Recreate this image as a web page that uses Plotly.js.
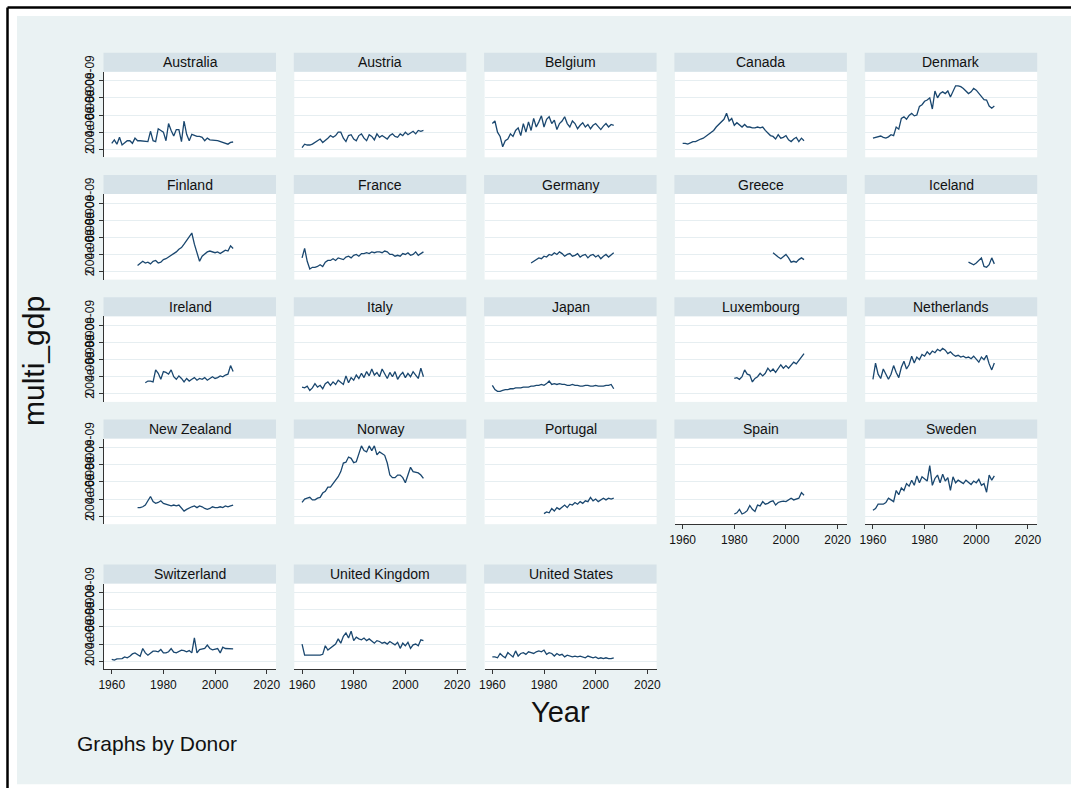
<!DOCTYPE html>
<html>
<head>
<meta charset="utf-8">
<script src="https://cdn.plot.ly/plotly-3.0.1.min.js"></script>
<style>
  html, body { margin: 0; padding: 0; background: #ffffff; }
  #chart { width: 1071px; height: 788px; }
</style>
</head>
<body>
<div id="chart"></div>
<script>
// Panel order (by Donor), first year of each series
const donors = ["Australia", "Austria", "Belgium", "Canada", "Denmark",
  "Finland", "France", "Germany", "Greece", "Iceland",
  "Ireland", "Italy", "Japan", "Luxembourg", "Netherlands",
  "New Zealand", "Norway", "Portugal", "Spain", "Sweden",
  "Switzerland", "United Kingdom", "United States"];
const startYears = [1960, 1960, 1960, 1960, 1960,
  1970, 1960, 1975, 1995, 1997,
  1973, 1960, 1960, 1980, 1960,
  1970, 1960, 1980, 1980, 1960,
  1960, 1960, 1960];

// multi_gdp, in units of 1e-09
const australia = [0.7, 1.1, 0.6, 1.4, 0.5, 0.7, 1.0, 1.0, 0.7, 1.3, 1.0, 1.0, 0.95, 0.95, 0.9, 2.1, 1.0, 0.9, 2.4, 2.2, 2.0, 1.0, 3.0, 2.2, 1.55, 2.3, 2.3, 0.9, 3.3, 1.75, 1.0, 1.75, 1.6, 1.5, 1.5, 1.4, 1.0, 1.3, 1.1, 1.1, 1.05, 1.0, 0.9, 0.8, 0.7, 0.6, 0.8, 0.85];
const austria = [0.2, 0.6, 0.5, 0.5, 0.6, 0.8, 1.0, 1.2, 0.8, 1.0, 1.3, 1.6, 1.4, 1.6, 2.0, 2.0, 1.3, 0.9, 1.6, 1.7, 1.2, 1.0, 1.6, 1.8, 1.3, 1.0, 1.7, 1.5, 1.1, 1.8, 1.4, 1.6, 1.4, 1.2, 1.6, 1.8, 1.5, 1.4, 1.8, 1.6, 2.0, 1.7, 1.9, 2.1, 1.8, 2.2, 2.1, 2.2];
const belgium = [3.0, 3.3, 2.0, 1.5, 0.3, 1.0, 1.2, 1.8, 1.5, 2.2, 2.5, 1.6, 3.0, 2.0, 3.2, 2.2, 3.6, 2.6, 3.2, 3.9, 2.6, 3.5, 3.8, 3.0, 3.4, 2.3, 3.0, 3.3, 3.8, 3.0, 2.6, 3.3, 3.0, 2.4, 2.8, 3.1, 2.6, 2.9, 2.4, 2.8, 3.0, 2.6, 2.3, 2.7, 3.0, 2.6, 2.9, 2.8];
const canada = [0.7, 0.7, 0.6, 0.8, 0.9, 0.9, 1.1, 1.2, 1.3, 1.5, 1.8, 2.0, 2.2, 2.6, 2.9, 3.1, 3.5, 4.2, 3.3, 3.6, 2.8, 3.1, 2.9, 2.6, 2.9, 2.6, 2.6, 2.5, 2.5, 2.6, 2.5, 2.6, 2.2, 1.9, 1.6, 1.5, 1.2, 1.7, 1.3, 1.4, 1.6, 1.1, 0.9, 1.2, 1.4, 0.9, 1.3, 1.0];
const denmark = [1.3, 1.4, 1.45, 1.55, 1.4, 1.3, 1.45, 1.7, 1.6, 2.6, 2.35, 3.6, 3.8, 3.5, 3.95, 4.2, 3.9, 4.0, 5.0, 5.2, 5.6, 5.75, 6.0, 4.7, 6.8, 6.0, 6.5, 6.7, 6.5, 6.8, 6.1, 6.7, 7.4, 7.4, 7.3, 7.1, 6.85, 6.5, 6.7, 7.1, 6.9, 6.5, 6.1, 5.8, 5.75, 5.05, 4.8, 5.05];
const finland = [0.7, 1.0, 1.2, 1.0, 1.1, 0.9, 1.2, 1.3, 1.0, 1.1, 1.4, 1.5, 1.7, 1.8, 2.0, 2.3, 2.6, 2.8, 3.2, 3.6, 4.0, 4.5, 3.2, 2.2, 1.2, 1.8, 2.1, 2.3, 2.4, 2.3, 2.2, 2.3, 2.1, 2.3, 2.5, 2.4, 3.0, 2.7];
const france = [1.6, 2.7, 1.2, 0.3, 0.5, 0.5, 0.6, 0.8, 0.6, 1.1, 1.3, 1.3, 1.5, 1.3, 1.6, 1.5, 1.4, 1.7, 1.8, 1.6, 1.9, 2.0, 1.8, 2.1, 2.1, 2.2, 2.1, 2.3, 2.2, 2.3, 2.3, 2.2, 2.4, 2.3, 2.0, 2.0, 1.8, 1.9, 1.8, 2.1, 2.0, 2.2, 1.9, 2.0, 2.3, 1.9, 2.1, 2.3];
const germany = [1.0, 1.2, 1.3, 1.6, 1.5, 1.8, 1.7, 2.0, 1.9, 2.2, 2.0, 2.3, 2.1, 1.8, 2.0, 2.1, 1.8, 1.9, 2.1, 1.7, 1.9, 2.0, 1.6, 1.9, 2.0, 1.7, 1.9, 1.5, 1.8, 2.0, 1.7, 2.0, 2.2];
const greece = [2.2, 1.9, 1.7, 1.5, 1.8, 2.0, 1.6, 1.1, 1.2, 1.1, 1.4, 1.6, 1.4];
const iceland = [1.1, 0.9, 0.8, 1.0, 1.3, 1.6, 0.6, 0.5, 0.8, 1.6, 0.9];
const ireland = [1.3, 1.5, 1.5, 1.4, 2.8, 2.4, 1.7, 2.6, 2.5, 2.3, 2.8, 2.0, 1.7, 2.1, 1.8, 1.4, 1.8, 1.5, 1.7, 1.9, 1.6, 1.8, 1.7, 1.9, 1.6, 1.8, 2.0, 1.8, 1.9, 2.1, 2.0, 2.2, 2.3, 3.3, 2.6];
const italy = [0.8, 0.7, 0.9, 0.4, 0.7, 1.2, 0.8, 1.0, 0.6, 1.2, 1.4, 1.0, 1.4, 1.1, 1.6, 1.3, 1.1, 2.1, 1.3, 1.9, 1.6, 2.2, 1.8, 2.4, 1.9, 2.6, 2.1, 2.9, 2.2, 2.5, 2.0, 2.9, 2.3, 1.8, 2.5, 2.0, 2.6, 1.7, 2.2, 2.5, 1.9, 2.4, 2.0, 2.6, 2.2, 1.8, 3.0, 2.0];
const japan = [1.0, 0.5, 0.3, 0.3, 0.4, 0.5, 0.5, 0.6, 0.6, 0.7, 0.7, 0.7, 0.8, 0.8, 0.8, 0.9, 0.9, 1.0, 1.0, 1.1, 1.0, 1.2, 1.5, 1.1, 1.2, 1.1, 1.2, 1.1, 1.1, 1.0, 1.0, 1.1, 1.0, 1.0, 0.9, 0.9, 1.0, 1.0, 0.9, 0.9, 1.0, 0.9, 0.9, 0.9, 1.0, 1.0, 1.1, 0.6];
const luxembourg = [1.8, 1.9, 1.7, 2.0, 2.8, 2.3, 2.2, 1.4, 1.8, 2.0, 2.4, 2.1, 2.4, 3.0, 2.6, 2.9, 2.5, 3.0, 3.4, 3.0, 3.3, 3.0, 3.3, 3.7, 3.5, 3.9, 4.3, 4.7];
const netherlands = [1.7, 3.6, 2.3, 1.8, 2.9, 2.2, 1.7, 2.3, 3.3, 2.5, 1.9, 3.1, 3.8, 2.9, 3.4, 4.4, 3.6, 4.3, 4.0, 4.6, 4.4, 4.9, 4.6, 5.0, 4.8, 5.2, 5.0, 5.3, 5.1, 4.7, 4.9, 4.6, 4.4, 4.5, 4.3, 4.4, 4.2, 4.3, 4.1, 4.4, 4.0, 3.7, 4.3, 4.0, 4.5, 3.5, 2.8, 3.6];
const newZealand = [1.0, 1.0, 1.1, 1.3, 1.8, 2.3, 1.7, 1.5, 1.6, 1.8, 1.5, 1.4, 1.3, 1.2, 1.3, 1.2, 1.3, 0.9, 0.6, 0.8, 1.0, 1.1, 1.2, 1.0, 1.2, 1.1, 0.9, 0.8, 0.9, 1.1, 1.0, 1.0, 1.1, 1.0, 1.2, 1.1, 1.2, 1.3];
const norway = [1.6, 2.0, 2.1, 2.2, 1.9, 1.9, 2.1, 2.2, 2.7, 2.9, 3.4, 3.4, 3.8, 4.2, 4.6, 5.2, 6.2, 6.3, 6.9, 6.75, 6.25, 6.35, 7.4, 8.2, 7.65, 7.5, 8.2, 7.65, 8.2, 7.15, 7.5, 7.3, 7.1, 6.2, 4.8, 4.5, 4.5, 4.8, 4.8, 4.5, 3.9, 4.8, 5.7, 5.2, 5.1, 5.05, 4.8, 4.4];
const portugal = [0.3, 0.5, 0.4, 0.9, 0.6, 1.0, 0.8, 1.1, 1.3, 1.0, 1.4, 1.3, 1.6, 1.4, 1.7, 1.5, 1.8, 1.7, 2.2, 1.8, 2.0, 1.7, 1.9, 2.1, 1.9, 2.1, 2.0, 2.1];
const spain = [0.26, 0.4, 0.8, 0.26, 0.4, 0.65, 1.25, 0.8, 0.55, 1.3, 1.2, 1.7, 1.4, 1.5, 1.7, 1.8, 1.3, 1.6, 1.7, 1.75, 1.7, 1.9, 2.1, 1.9, 2.0, 2.1, 2.75, 2.45];
const sweden = [0.7, 0.9, 1.4, 1.4, 1.4, 1.6, 2.1, 1.9, 1.7, 3.0, 2.5, 3.3, 3.0, 3.8, 3.5, 4.2, 3.6, 4.7, 3.9, 4.6, 4.3, 4.1, 5.9, 3.6, 4.4, 4.8, 3.9, 4.9, 4.1, 4.5, 3.0, 4.6, 3.9, 4.2, 4.0, 3.8, 4.2, 3.9, 3.7, 4.1, 3.9, 4.3, 3.6, 3.8, 2.8, 4.8, 4.2, 4.7];
const switzerland = [0.2, 0.12, 0.27, 0.3, 0.3, 0.5, 0.4, 0.58, 0.85, 0.97, 0.78, 0.58, 1.48, 0.97, 0.7, 0.97, 1.17, 1.17, 1.1, 1.36, 0.97, 0.97, 1.1, 1.48, 1.05, 0.97, 1.1, 1.28, 1.24, 1.1, 1.24, 0.97, 2.72, 0.97, 1.36, 1.44, 1.48, 1.87, 1.48, 1.32, 1.44, 1.48, 0.97, 1.63, 1.48, 1.48, 1.48, 1.44];
const unitedKingdom = [2.0, 0.7, 0.7, 0.7, 0.7, 0.7, 0.7, 0.7, 0.8, 1.8, 1.3, 1.5, 1.8, 2.0, 2.6, 2.1, 2.9, 3.3, 2.7, 3.5, 2.4, 2.8, 2.6, 2.5, 2.7, 2.4, 2.6, 2.3, 2.1, 2.4, 2.3, 2.1, 2.2, 2.0, 2.3, 2.1, 1.9, 2.2, 1.5, 2.1, 1.8, 2.2, 1.5, 1.9, 2.0, 1.8, 2.5, 2.4];
const unitedStates = [0.5, 0.5, 0.4, 0.9, 0.6, 0.4, 1.0, 0.7, 0.5, 1.2, 0.6, 0.9, 1.0, 0.8, 1.1, 1.0, 0.9, 1.1, 1.2, 1.1, 1.3, 0.8, 1.0, 0.9, 0.6, 0.9, 0.7, 0.8, 0.5, 0.7, 0.6, 0.5, 0.6, 0.5, 0.6, 0.5, 0.4, 0.6, 0.5, 0.4, 0.5, 0.3, 0.4, 0.3, 0.4, 0.3, 0.3, 0.4];

const series = [australia, austria, belgium, canada, denmark,
  finland, france, germany, greece, iceland,
  ireland, italy, japan, luxembourg, netherlands,
  newZealand, norway, portugal, spain, sweden,
  switzerland, unitedKingdom, unitedStates];

// Axis ticks
const xTicks = [1960, 1980, 2000, 2020];
const yTicks = [0, 2, 4, 6, 8];
const yTickText = ["0", "2.00e-09", "4.00e-09", "6.00e-09", "8.00e-09"];

// ---- page geometry (pixels) ----
const W = 1071, H = 788;
const fx = v => v / W;
const fy = v => 1 - v / H;
const FONT = "Liberation Sans, Arial, Helvetica, sans-serif";
const LINE = "#1a476f";
const BG = "#eaf2f3";
const STRIP = "#d6e2e8";
const GRID = "#e6eef1";
const AXIS = "#333333";

const colLeft = c => 104 + 190.3 * c;
const panelW = 172;
const rowTop = [71.7, 194.0, 316.3, 438.6, 583.6];
const rowBottom = [157.3, 279.6, 401.9, 524.2, 669.2];
const stripH = 19;
const xRange = [1957.0, 2023.6];
const yRange = [-0.933, 9.05];

const traces = [];
const layout = {
  width: W, height: H,
  margin: { l: 0, r: 0, t: 0, b: 0, pad: 0 },
  paper_bgcolor: BG,
  plot_bgcolor: "#ffffff",
  showlegend: false,
  font: { family: FONT, color: "#111111", size: 12 },
  shapes: [],
  annotations: []
};

// white border around the graph region, plus black frame on top and left
layout.shapes.push(
  { type: "rect", xref: "paper", yref: "paper", x0: 0, x1: 1, y0: fy(0), y1: fy(16), fillcolor: "#ffffff", line: { width: 0 }, layer: "below" },
  { type: "rect", xref: "paper", yref: "paper", x0: 0, x1: fx(17), y0: 0, y1: 1, fillcolor: "#ffffff", line: { width: 0 }, layer: "below" },
  { type: "rect", xref: "paper", yref: "paper", x0: 0, x1: 1, y0: 0, y1: fy(784.3), fillcolor: "#ffffff", line: { width: 0 }, layer: "below" },
  { type: "line", xref: "paper", yref: "paper", x0: fx(7.5), x1: 1, y0: fy(7.5), y1: fy(7.5), line: { color: "#000000", width: 2.5 } },
  { type: "line", xref: "paper", yref: "paper", x0: fx(7.5), x1: fx(7.5), y0: fy(7.5), y1: 0, line: { color: "#000000", width: 2.5 } }
);

donors.forEach((name, i) => {
  const row = Math.floor(i / 5), col = i % 5;
  const n = i === 0 ? "" : String(i + 1);
  const x0 = colLeft(col), x1 = x0 + panelW;
  const top = rowTop[row], bottom = rowBottom[row];
  const vals = series[i];
  const years = vals.map((_, k) => startYears[i] + k);
  const showX = i >= 18;
  const showY = col === 0;

  traces.push({
    type: "scatter", mode: "lines",
    x: years, y: vals,
    xaxis: "x" + n, yaxis: "y" + n,
    line: { color: LINE, width: 1.3 },
    hoverinfo: "skip"
  });

  layout["xaxis" + n] = {
    domain: [fx(x0), fx(x1)], range: xRange, anchor: "y" + n,
    showgrid: false, zeroline: false,
    showline: showX, linecolor: AXIS, linewidth: 1,
    ticks: showX ? "outside" : "", ticklen: 4, tickcolor: AXIS, tickwidth: 1,
    tickvals: xTicks, showticklabels: showX,
    tickfont: { family: FONT, size: 12, color: "#111111" },
    fixedrange: true
  };
  layout["yaxis" + n] = {
    domain: [fy(bottom), fy(top)], range: yRange, anchor: "x" + n,
    showgrid: true, gridcolor: GRID, gridwidth: 1, zeroline: false,
    showline: showY, linecolor: AXIS, linewidth: 1,
    ticks: showY ? "outside" : "", ticklen: 4, tickcolor: AXIS, tickwidth: 1,
    tickvals: yTicks, ticktext: yTickText, showticklabels: showY,
    tickangle: -90,
    tickfont: { family: FONT, size: 12, color: "#111111" },
    fixedrange: true
  };

  // strip with the donor name
  layout.shapes.push({
    type: "rect", xref: "paper", yref: "paper",
    x0: fx(x0 - 0.5), x1: fx(x1), y0: fy(top), y1: fy(top - stripH),
    fillcolor: STRIP, line: { width: 0 }, layer: "below"
  });
  layout.annotations.push({
    xref: "paper", yref: "paper", x: fx((x0 + x1) / 2), y: fy(top - stripH / 2),
    text: name, showarrow: false, xanchor: "center", yanchor: "middle",
    font: { family: FONT, size: 14, color: "#111111" }
  });
});

// axis titles and note
layout.annotations.push(
  { xref: "paper", yref: "paper", x: fx(33), y: fy(361), text: "multi_gdp", textangle: -90,
    showarrow: false, xanchor: "center", yanchor: "middle", font: { family: FONT, size: 30, color: "#111111" } },
  { xref: "paper", yref: "paper", x: fx(560), y: fy(712), text: "Year",
    showarrow: false, xanchor: "center", yanchor: "middle", font: { family: FONT, size: 29, color: "#111111" } },
  { xref: "paper", yref: "paper", x: fx(75), y: fy(743), text: "Graphs by Donor",
    showarrow: false, xanchor: "left", yanchor: "middle", font: { family: FONT, size: 21, color: "#111111" } }
);

Plotly.newPlot("chart", traces, layout, { displayModeBar: false, staticPlot: true });
</script>
</body>
</html>
